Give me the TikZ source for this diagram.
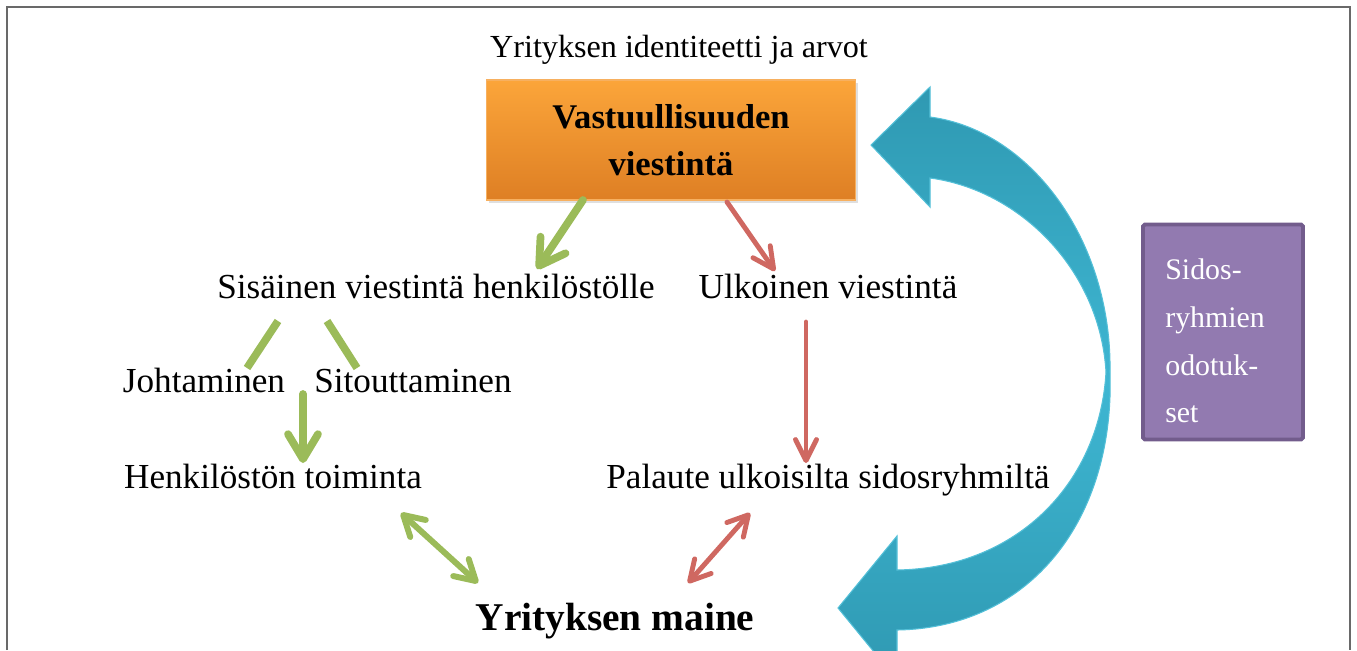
\documentclass[tikz,border=0pt]{standalone}
\usepackage{fontspec}
\setmainfont{Liberation Serif}
\usetikzlibrary{arrows.meta,shadows}

\definecolor{accgreen}{RGB}{155,187,89}
\definecolor{accred}{RGB}{207,104,97}
\definecolor{orangetop}{RGB}{251,165,58}
\definecolor{orangebot}{RGB}{222,127,36}
\definecolor{orangeedge}{RGB}{247,176,96}
\definecolor{tealdark}{RGB}{47,153,178}
\definecolor{teallight}{RGB}{62,182,210}
\definecolor{tealedge}{RGB}{84,192,216}
\definecolor{lilac}{RGB}{146,122,176}
\definecolor{lilacedge}{RGB}{114,92,140}
\definecolor{framegray}{RGB}{105,105,105}

\tikzset{
  txt/.style={anchor=base, inner sep=0pt, font=\fontsize{20}{24}\selectfont},
  greenarrow/.style={accgreen, line width=4.4pt, line cap=round, -{Straight Barb[length=0.5cm,width=0.6cm,round]}},
  greenline/.style={accgreen, line width=4.4pt},
  greendouble/.style={accgreen, line width=3.4pt, line cap=round, {Straight Barb[length=0.4cm,width=0.46cm,round]}-{Straight Barb[length=0.4cm,width=0.46cm,round]}},
  redarrow/.style={accred, line width=2.8pt, line cap=round, -{Straight Barb[length=0.42cm,width=0.42cm,round]}},
  reddouble/.style={accred, line width=2.8pt, line cap=round, {Straight Barb[length=0.4cm,width=0.44cm,round]}-{Straight Barb[length=0.4cm,width=0.44cm,round]}},
  orangebox/.style={draw=orangeedge, line width=1pt, top color=orangetop, bottom color=orangebot,
    minimum width=7.38cm, minimum height=2.4cm, align=center,
    font=\bfseries\fontsize{19.7}{26.7}\selectfont,
    drop shadow={opacity=0.25, shadow xshift=0.05cm, shadow yshift=-0.06cm}},
  lilacbox/.style={draw=lilacedge, fill=lilac, line width=2.2pt, rounded corners=1pt,
    minimum width=3.2cm, minimum height=4.3cm},
}

\begin{document}
\begin{tikzpicture}[x=0.02cm, y=-0.02cm] % pixel grid, y going down
    \useasboundingbox (0,0) rectangle (1357,650);

    % Frame
    \draw[framegray, line width=1.2pt] (7,650) -- (7,7) -- (1350,7) -- (1350,650);

    % Define arrow ends
    \coordinate (g1a) at (583,200); \coordinate (g1b) at (537,269); \coordinate (r1a) at (727,202); \coordinate (r1b) at (775,271);
    \coordinate (l1a) at (278,321); \coordinate (l1b) at (247,368); \coordinate (l2a) at (327,321); \coordinate (l2b) at (357,368);
    \coordinate (g2a) at (303,394); \coordinate (g2b) at (303,463); \coordinate (r2a) at (806,322); \coordinate (r2b) at (806,463);
    \coordinate (g3a) at (401,513); \coordinate (g3b) at (478,583); \coordinate (r3a) at (750,513); \coordinate (r3b) at (688,583);

    % Curved arrow
    \shadedraw[top color=tealdark, bottom color=tealdark, middle color=teallight, draw=tealedge, line width=0.6pt]
      (871,145) -- (930,87) -- (930,117) .. controls (1030,130) and (1112,240) .. (1110,372)
      .. controls (1115,520) and (1030,628) .. (897,630) -- (897,680) -- (838,608) -- (897,536) -- (897,570)
      .. controls (1020,568) and (1100,480) .. (1106,372)
      .. controls (1100,270) and (1020,190) .. (930,178) -- (930,207) -- cycle;

    % Add texts
    \node[txt, font=\fontsize{18.3}{22}\selectfont] (arvot) at (679,57) {Yrityksen identiteetti ja arvot};
    \node[orangebox] (vastuu) at (671,140) {Vastuullisuuden\\viestintä};
    \node[txt] (sisainen) at (436,298) {Sisäinen viestintä henkilöstölle};
    \node[txt] (ulkoinen) at (828,298) {Ulkoinen viestintä};
    \node[txt] (johtaminen) at (204,392) {Johtaminen};
    \node[txt] (sitouttaminen) at (413,392) {Sitouttaminen};
    \node[txt] (toiminta) at (273,488) {Henkilöstön toiminta};
    \node[txt] (palaute) at (828,488) {Palaute ulkoisilta sidosryhmiltä};
    \node[txt, font=\bfseries\fontsize{22.4}{26}\selectfont] (maine) at (615,630) {Yrityksen maine};
    \node[lilacbox] (sidos) at (1223,332) {};
    \node[anchor=north west, inner sep=0pt, align=left, text=white, font=\fontsize{17}{27.3}\selectfont]
      (sidostxt) at (1165,258) {Sidos-\\ryhmien\\odotuk-\\set};

    % Draw green arrows
    \draw[greenarrow] (g1a) -- (g1b);
    \draw[greenline] (l1a) -- (l1b);
    \draw[greenline] (l2a) -- (l2b);
    \draw[greenarrow] (g2a) -- (g2b);
    \draw[greendouble] (g3a) -- (g3b);

    % Draw red arrows
    \draw[redarrow] (r1a) -- (r1b);
    \draw[redarrow] (r2a) -- (r2b);
    \draw[reddouble] (r3a) -- (r3b);

  \end{tikzpicture}
\end{document}
